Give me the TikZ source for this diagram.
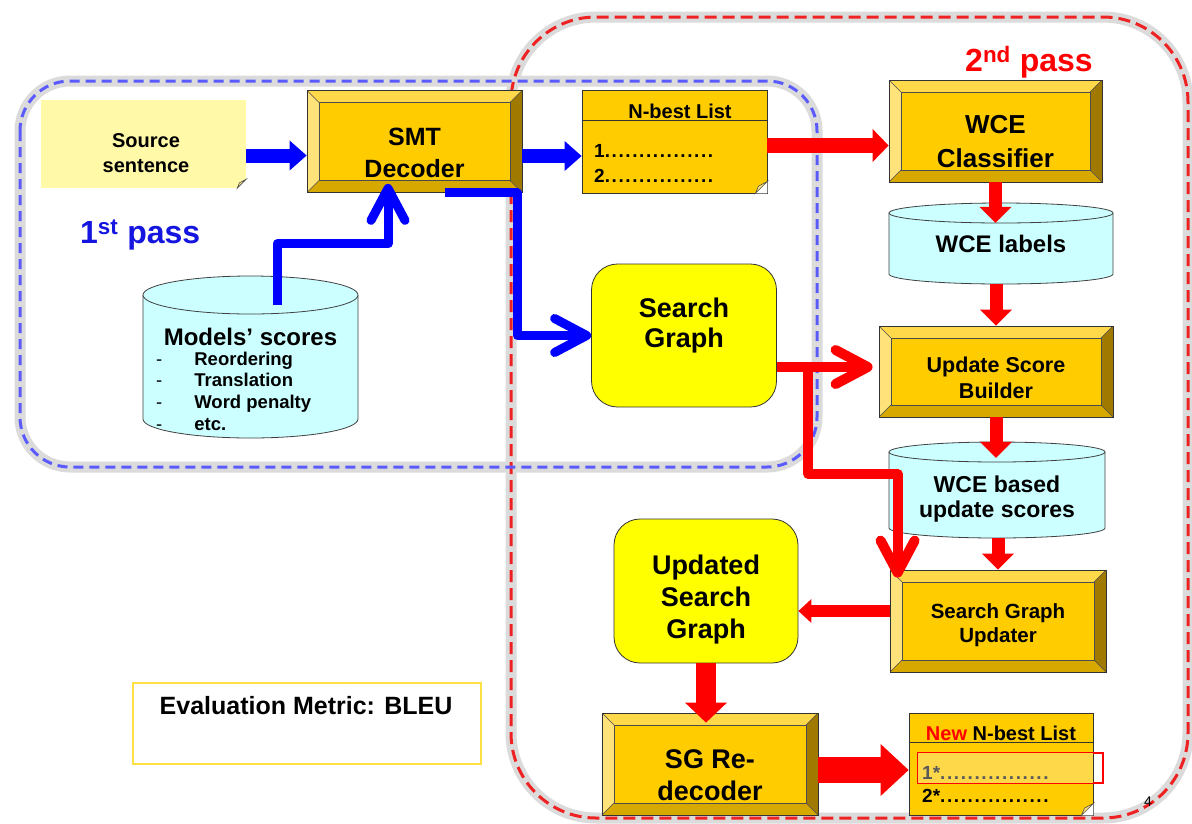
\documentclass[tikz,border=0pt]{standalone}
\usepackage{fontspec}
\setmainfont{Liberation Sans}
\usetikzlibrary{arrows.meta}
\usetikzlibrary{calc}
\definecolor{BoxGold}{HTML}{FFCC00}
\definecolor{BevTop}{HTML}{FFD94A}
\definecolor{BevLeft}{HTML}{FFE27A}
\definecolor{BevRight}{HTML}{A07A00}
\definecolor{BevBottom}{HTML}{D6A800}
\definecolor{SGYellow}{HTML}{FFFF00}
\definecolor{DBCyan}{HTML}{CCFFFF}
\definecolor{SrcYellow}{HTML}{FFF9A8}
\definecolor{FrameBlue}{HTML}{5A5AFF}
\definecolor{FrameRed}{HTML}{EE2222}
\definecolor{PassBlue}{HTML}{1515E0}
\definecolor{EvalBorder}{HTML}{FFE040}
\definecolor{FoldGold}{HTML}{FFE680}
\definecolor{HiGold}{HTML}{FFD84A}
\newcommand\bw{12pt}
\newcommand\ppb{path picture bounding box}
\newcommand\sz[2]{\fontsize{#1}{#2}\selectfont\bfseries}
\newcommand\dotrow{\foreach\d in {1,...,16}{.\kern1.6pt}}
% cylinder: centre x, top y, bottom y, x radius, y radius
\newcommand\dbshape[5]{%
  \filldraw[fill=DBCyan, draw=black!75, line width=0.8pt] (#1-#4,#2) -- (#1-#4,#3)
    arc[start angle=180, end angle=360, x radius=#4pt, y radius=#5pt] -- (#1+#4,#2);
  \filldraw[fill=DBCyan, draw=black!75, line width=0.8pt] (#1,#2) ellipse[x radius=#4pt, y radius=#5pt];
}
% folded corner of a note: node, size
\newcommand\foldcorner[2]{%
  \fill[white] ([xshift=-#2pt]#1.south east) -- (#1.south east) -- ([yshift=#2pt]#1.south east) -- cycle;
  \filldraw[fill=FoldGold, draw=black!70, line width=0.6pt] ([xshift=-#2pt]#1.south east)
    -- ([yshift=#2pt]#1.south east) -- ([xshift=-0.75*#2pt,yshift=0.6*#2pt]#1.south east) -- cycle;
}
\tikzset{
  bevelbox/.style={rectangle, draw=black!80, line width=0.8pt, fill=BoxGold, inner sep=0pt,
    path picture={
      \fill[BevTop] (\ppb.north west) -- (\ppb.north east) -- ([xshift=-\bw,yshift=-\bw]\ppb.north east) -- ([xshift=\bw,yshift=-\bw]\ppb.north west) -- cycle;
      \fill[BevLeft] (\ppb.north west) -- ([xshift=\bw,yshift=-\bw]\ppb.north west) -- ([xshift=\bw,yshift=\bw]\ppb.south west) -- (\ppb.south west) -- cycle;
      \fill[BevRight] (\ppb.north east) -- ([xshift=-\bw,yshift=-\bw]\ppb.north east) -- ([xshift=-\bw,yshift=\bw]\ppb.south east) -- (\ppb.south east) -- cycle;
      \fill[BevBottom] (\ppb.south west) -- ([xshift=\bw,yshift=\bw]\ppb.south west) -- ([xshift=-\bw,yshift=\bw]\ppb.south east) -- (\ppb.south east) -- cycle;
      \draw[black!70, line width=0.6pt] ([xshift=\bw,yshift=-\bw]\ppb.north west) rectangle ([xshift=-\bw,yshift=\bw]\ppb.south east);
      \draw[black!70, line width=0.6pt] (\ppb.north west) -- ++(\bw,-\bw) (\ppb.north east) -- ++(-\bw,-\bw)
        (\ppb.south west) -- ++(\bw,\bw) (\ppb.south east) -- ++(-\bw,\bw);
    }},
  roundbox/.style={rectangle, rounded corners=26pt, draw=black!80, line width=0.8pt, fill=SGYellow, inner sep=0pt},
  notebox/.style={rectangle, draw=black!80, line width=0.8pt, fill=BoxGold, inner sep=0pt},
  srcbox/.style={rectangle, fill=SrcYellow, inner sep=0pt},
  dbbox/.style={rectangle, inner sep=0pt},
  boxtext/.style={align=center, inner sep=0pt},
  blockarrow/.style n args={4}{draw=#1, line width=#2, -{Triangle[width=#3,length=#4,line width=0pt]}},
  chevron/.style 2 args={draw=#1, line width=#2, line join=round, -{Straight Barb[length=32pt,width=34pt,round]}},
  frameshadow/.style={draw=black!14, line width=11pt},
  blueframe/.style={draw=FrameBlue, line width=3pt, dash pattern=on 10pt off 6pt},
  redframe/.style={draw=FrameRed, line width=3pt, dash pattern=on 12pt off 6pt},
}
\begin{document}
\begin{tikzpicture}[x=1pt, y=-1pt]
\useasboundingbox (0,0) rectangle (1192,823);
\fill[white] (0,0) rectangle (1192,823);

% pass frames
\draw[frameshadow, rounded corners=85pt] (511,17) rectangle (1188,818);
\draw[frameshadow, rounded corners=50pt] (20,81) rectangle (817,467);
\draw[redframe, rounded corners=85pt] (511,17) rectangle (1188,818);
\draw[blueframe, rounded corners=50pt] (20,81) rectangle (817,467);

% first pass
\node[srcbox, minimum width=205pt, minimum height=88pt] (src) at (143.5,144) {};
\foldcorner{src}{9}
\node[boxtext, font=\sz{20}{25}] (srctext) at (146,153) {Source\\sentence};

\node[bevelbox, minimum width=215pt, minimum height=102pt] (smt) at (414.5,141.5) {};
\node[boxtext, font=\sz{25}{32}] (smttext) at (414.5,152.5) {SMT\\Decoder};

\dbshape{250.5}{295}{419}{107.5}{19}
\node[dbbox, minimum width=215pt, minimum height=124pt] (models) at (250.5,357) {};
\node[boxtext, font=\sz{24}{28}] (modtitle) at (250.5,336.5) {Models’ scores};
\node[anchor=west, inner sep=0pt, font=\sz{18.5}{21.7}] (modlist) at (156,393.5)
  {\begin{tabular}{@{}l@{\hspace{32pt}}l@{}}{\mdseries -}&Reordering\\{\mdseries -}&Translation\\{\mdseries -}&Word penalty\\{\mdseries -}&etc.\end{tabular}};

\node[anchor=west, inner sep=0pt, font=\sz{32}{36}, text=PassBlue] (pass1) at (80,235) {1\textsuperscript{st} pass};

\node[notebox, minimum width=185pt, minimum height=103pt] (nbest) at (674.5,141.5) {};
\foldcorner{nbest}{12}
\draw[black!80, line width=0.8pt] ([yshift=-31pt]nbest.north west) -- ([yshift=-31pt]nbest.north east);
\node[boxtext, font=\sz{20}{24}] (nbesthead) at (680,111) {N-best List};
\node[anchor=west, align=left, inner sep=0pt, font=\sz{19}{25}] (nbestitems) at (594,163)
  {1\dotrow\\2\dotrow};

\node[roundbox, minimum width=185pt, minimum height=143pt] (sg) at (684,335.5) {};
\node[boxtext, font=\sz{27}{30}] (sgtext) at (684,326) {Search\\Graph};

% second pass
\node[anchor=west, inner sep=0pt, font=\sz{32}{36}, text=red] (pass2) at (965,62) {2\textsuperscript{nd} pass};

\node[bevelbox, minimum width=213pt, minimum height=102pt] (wce) at (995.5,131) {};
\node[boxtext, font=\sz{26}{34}] (wcetext) at (995.5,142) {WCE\\Classifier};

\dbshape{1001}{213}{274}{112}{10}
\node[dbbox, minimum width=224pt, minimum height=61pt] (labels) at (1001,243.5) {};
\node[boxtext, font=\sz{24}{28}] (labelstext) at (1001,244) {WCE labels};

\node[bevelbox, minimum width=234pt, minimum height=91pt] (usb) at (996,371.5) {};
\node[boxtext, font=\sz{21.5}{26}] (usbtext) at (996,378) {Update Score\\Builder};

\dbshape{997}{452}{528}{108}{10}
\node[dbbox, minimum width=216pt, minimum height=76pt] (wbased) at (997,490) {};
\node[boxtext, font=\sz{23}{25}] (wbasedtext) at (997,499.5) {WCE based\\update scores};

\node[bevelbox, minimum width=216pt, minimum height=102pt] (sgu) at (998,621) {};
\node[boxtext, font=\sz{20.5}{24}] (sgutext) at (998,625) {Search Graph\\Updater};

\node[roundbox, minimum width=184pt, minimum height=144pt] (usg) at (706,591) {};
\node[boxtext, font=\sz{27}{32}] (usgtext) at (706,599.5) {Updated\\Search\\Graph};

\node[bevelbox, minimum width=216pt, minimum height=102pt] (redec) at (710,764) {};
\node[boxtext, font=\sz{27}{32}] (redectext) at (710,775) {SG Re-\\decoder};

\node[notebox, minimum width=184pt, minimum height=102pt] (newbest) at (1001,764) {};
\foldcorner{newbest}{12}
\draw[black!80, line width=0.8pt] ([yshift=-30pt]newbest.north west) -- ([yshift=-30pt]newbest.north east);
\node[draw=red, line width=2.5pt, minimum width=185pt, minimum height=30pt, inner sep=0pt] (hilite) at (1010.5,768) {};
\fill[HiGold] ([shift={(1.5pt,-1.5pt)}]hilite.north west) rectangle ([yshift=1.5pt]hilite.south west -| newbest.east);
\node[boxtext, font=\sz{20}{24}] (newhead) at (1001,733) {\textcolor{red}{New} N-best List};
\node[anchor=west, align=left, inner sep=0pt, font=\sz{19}{23}] (newitems) at (922,784)
  {\textcolor{black!65}{1*\dotrow}\\2*\dotrow};

\node[draw=EvalBorder, line width=1.2pt, fill=white, minimum width=348pt, minimum height=81pt] (evalbox) at (307,723.5) {};
\node[boxtext, font=\sz{25}{30}] (evaltext) at (306,706) {Evaluation Metric: BLEU};

\node[font=\fontsize{14}{16}\selectfont] (pagenum) at (1148,802) {4};

% connectors, first pass
\coordinate (srcout) at ([yshift=-11.5pt]src.east);
\draw[blockarrow={blue}{14pt}{30pt}{17pt}] (srcout) -- (srcout -| smt.west);
\coordinate (smtout) at ([yshift=-14.5pt]smt.east);
\draw[blockarrow={blue}{14pt}{30pt}{17pt}] (smtout) -- (smtout -| nbest.west);
\draw[chevron={blue}{9pt}] ($(models.north)+(26.5,10)$) -- ++(0,-61) -| ($(smt.south)+(-26.5,-9)$);
\draw[chevron={blue}{9pt}] ($(smt.south)+(30,0)$) -- ++(73,0) |- (sg.west);

% connectors, second pass
\coordinate (nbestout) at ([yshift=-4pt]nbest.east);
\draw[blockarrow={red}{15pt}{33pt}{16pt}] (nbestout) -- (nbestout -| wce.west);
\draw[blockarrow={red}{13pt}{32pt}{16pt}] (wce.south) -- ($(labels.north -| wce.south)+(0,10)$);
\draw[blockarrow={red}{13pt}{32pt}{16pt}] ($(labels.south -| usb.north)+(0,10)$) -- (usb.north);
\draw[blockarrow={red}{13pt}{32pt}{16pt}] (usb.south) -- ($(wbased.north -| usb.south)+(0,6)$);
\draw[blockarrow={red}{13pt}{32pt}{16pt}] ($(wbased.south -| sgu.north)+(0,10)$) -- (sgu.north);
\coordinate (sgout) at ($(sg.east)+(0,31.5)$);
\draw[chevron={red}{10pt}] (sgout) -- ($(sgout -| usb.west)+(-6,0)$);
\draw[chevron={red}{10pt}] ($(sgout)+(31.5,0)$) -- ++(0,107) -| ($(sgu.north west)+(8,8)$);
\coordinate (sguout) at ([yshift=10pt]sgu.west);
\draw[blockarrow={red}{12pt}{24pt}{13pt}] (sguout) -- (sguout -| usg.east);
\draw[blockarrow={red}{20pt}{42pt}{20pt}] (usg.south) -- ($(redec.north -| usg.south)+(0,10)$);
\coordinate (redecout) at ([yshift=-6pt]redec.east);
\draw[blockarrow={red}{26pt}{52pt}{28pt}] (redecout) -- (redecout -| newbest.west);
\end{tikzpicture}
\end{document}
